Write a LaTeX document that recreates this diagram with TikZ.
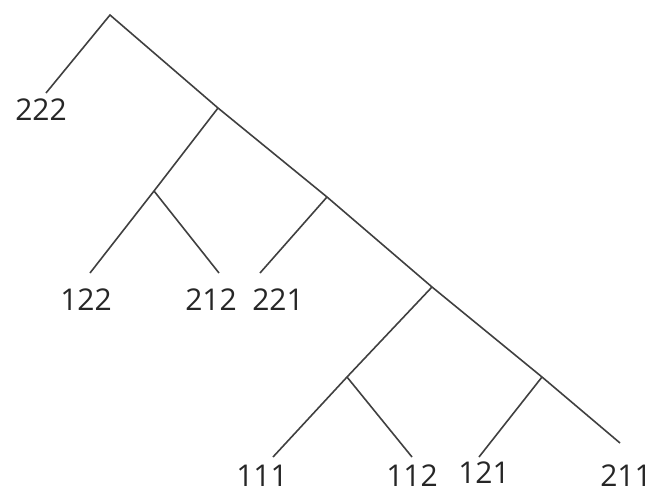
\documentclass[tikz,border=0pt]{standalone}
\usepackage{fontspec}
\setmainfont{Open Sans}
\begin{document}
\begin{tikzpicture}[x=1pt,y=-1pt,
  edge/.style={draw=black!75, line width=1.6pt},
  leaf/.style={font=\fontsize{30}{32}\selectfont, text=black!85, inner sep=0pt}]
\useasboundingbox (0,0) rectangle (654,493);
% internal points
\coordinate (r) at (110,15);
\coordinate (a) at (218,108);
\coordinate (b) at (154,191);
\coordinate (c) at (327,197);
\coordinate (d) at (432,287);
\coordinate (e) at (347,377);
\coordinate (f) at (542,377);
% leaf ends
\coordinate (l222) at (46,93);
\coordinate (l122) at (90,273);
\coordinate (l212) at (219,273);
\coordinate (l221) at (260,273);
\coordinate (l111) at (273,457);
\coordinate (l112) at (412,457);
\coordinate (l121) at (479,457);
\coordinate (l211) at (620,443);
% edges
\draw[edge] (l222) -- (r) -- (a) -- (c) -- (d) -- (f) -- (l211);
\draw[edge] (a) -- (b) -- (l122);
\draw[edge] (b) -- (l212);
\draw[edge] (c) -- (l221);
\draw[edge] (d) -- (e) -- (l111);
\draw[edge] (e) -- (l112);
\draw[edge] (f) -- (l121);
% labels
\node[leaf] (t222) at (41,110) {222};
\node[leaf] (t122) at (86,300) {122};
\node[leaf] (t212) at (211,300) {212};
\node[leaf] (t221) at (278,300) {221};
\node[leaf] (t111) at (262,476) {111};
\node[leaf] (t112) at (412,476) {112};
\node[leaf] (t121) at (484,473) {121};
\node[leaf] (t211) at (626,476) {211};
\end{tikzpicture}
\end{document}
